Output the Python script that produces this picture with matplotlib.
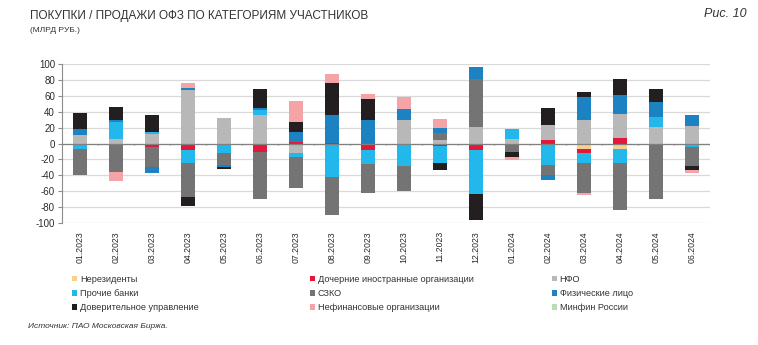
import numpy as np
import matplotlib.pyplot as plt
from matplotlib.patches import Patch

plt.rcParams['font.family'] = ['Liberation Sans', 'DejaVu Sans']
plt.rcParams['axes.unicode_minus'] = False

months = ['01.2023', '02.2023', '03.2023', '04.2023', '05.2023', '06.2023',
          '07.2023', '08.2023', '09.2023', '10.2023', '11.2023', '12.2023',
          '01.2024', '02.2024', '03.2024', '04.2024', '05.2024', '06.2024']

# млрд руб., по месяцам
nonres = [0, 0, 0, 0, 0, 0, 0, 0, 0, 0, 0, 0, 0, 0, -6.3, -6.3, 0, 0]
daughters = [0, 0, -5, -8.4, 0, -10.5, 2, 1, -8.4, -2, -3, -7.6,
             0, 5, -5.5, 7.6, 0, 0]
nfo = [11, 5.5, 12, 67.6, 31.8, 36, -12.6, 0, 0, 29.5, 4, 21,
       6.3, 19, 29.5, 30.3, 21, 21.9]
other_banks = [-7.5, 21.5, 2, -16, -12.6, 6.3, -4, -42, -17.7, -26.5, -21.5, -56.4,
               12.6, -27.4, -12.6, -18, 12.6, -5]
szko = [-32.5, -36.5, -24.5, -43, -14.7, -60, -39, -48.4, -36, -31.6, 9, 61,
        -10.5, -12.6, -38.7, -59.8, -69.5, -23.6]
individuals = [7, 2.5, -7.5, 2, -2, 2, 13, 34.5, 29.7, 14.7, 6.3, 14.7,
               0, -5.5, 29.5, 24, 19, 14.7]
trust = [20, 17, 22, -11.4, -2.5, 24.4, 12.6, 41, 26, 0, -8.4, -32.8,
         -6.3, 21, 5.5, 20.2, 16.8, -5]
nonfin = [0, -10.5, 0, 7, 0, 0, 26, 11.4, 6.3, 14.7, 11.8, 0,
          -3.4, 0, -2, 0, -1, -3.4]
minfin = [0] * 18

series = [
    ('Нерезиденты', nonres, '#f9cf8e'),
    ('Дочерние иностранные организации', daughters, '#e3173a'),
    ('НФО', nfo, '#b8b8b8'),
    ('Прочие банки', other_banks, '#22b8ec'),
    ('СЗКО', szko, '#747474'),
    ('Физические лицо', individuals, '#1d82c2'),
    ('Доверительное управление', trust, '#231f20'),
    ('Нефинансовые организации', nonfin, '#f4a3a6'),
    ('Минфин России', minfin, '#b9dcb2'),
]

fig = plt.figure(figsize=(7.58, 3.45), dpi=100)
ax = fig.add_axes([0.0818, 0.3545, 0.855, 0.459])

x = np.arange(len(months))
pos_base = np.zeros(len(months))
neg_base = np.zeros(len(months))
handles = []
for name, vals, color in series:
    v = np.array(vals, dtype=float)
    pos = np.where(v > 0, v, 0)
    neg = np.where(v < 0, v, 0)
    ax.bar(x, pos, 0.4, bottom=pos_base, color=color, zorder=3)
    ax.bar(x, neg, 0.4, bottom=neg_base, color=color, zorder=3)
    pos_base += pos
    neg_base += neg
    handles.append(Patch(facecolor=color, label=name))

ax.set_xlim(-0.5, len(months) - 0.5)
ax.set_ylim(-100, 100)
ax.set_yticks(np.arange(-100, 101, 20))
ax.yaxis.grid(True, color='#d9d9d9', linewidth=0.9, zorder=0)
ax.set_axisbelow(True)

for side in ['top', 'right', 'bottom']:
    ax.spines[side].set_visible(False)
ax.spines['left'].set_color('#8c8c8c')
ax.spines['left'].set_linewidth(0.8)
ax.tick_params(axis='y', colors='#8c8c8c', length=3, width=0.8,
               labelsize=7, labelcolor='#2b2b2b', pad=2)

ax.set_xticks(x)
ax.set_xticklabels(months, rotation=90, fontsize=6.3, color='#2b2b2b')
ax.tick_params(axis='x', length=0, pad=6)

# нулевая линия с рисками между месяцами
ax.axhline(0, color='#808080', linewidth=0.9, zorder=4)
ax.vlines(np.arange(-0.5, len(months)), -2.5, 0, color='#808080',
          linewidth=0.8, zorder=4)

fig.text(0.04, 0.955, 'ПОКУПКИ / ПРОДАЖИ ОФЗ ПО КАТЕГОРИЯМ УЧАСТНИКОВ',
         fontsize=8.5, color='#333333', ha='left', va='center')
fig.text(0.04, 0.912, '(МЛРД РУБ.)', fontsize=6, color='#333333',
         ha='left', va='center')
fig.text(0.985, 0.96, 'Рис. 10', fontsize=9, style='italic', color='#333333',
         ha='right', va='center')

legend_cols = [(0.095, [0, 3, 6]), (0.409, [1, 4, 7]), (0.728, [2, 5, 8])]
for xpos, idx in legend_cols:
    fig.legend([handles[i] for i in idx], [handles[i].get_label() for i in idx],
               loc='upper left', bbox_to_anchor=(xpos, 0.203), frameon=False,
               fontsize=6.6, handlelength=0.55, handleheight=0.55,
               handletextpad=0.3, labelspacing=0.55, borderaxespad=0,
               borderpad=0, labelcolor='#333333')

fig.text(0.037, 0.055, 'Источник: ПАО Московская Биржа.', fontsize=6,
         style='italic', color='#333333', ha='left', va='center')

fig.savefig('out.png', dpi=100)
